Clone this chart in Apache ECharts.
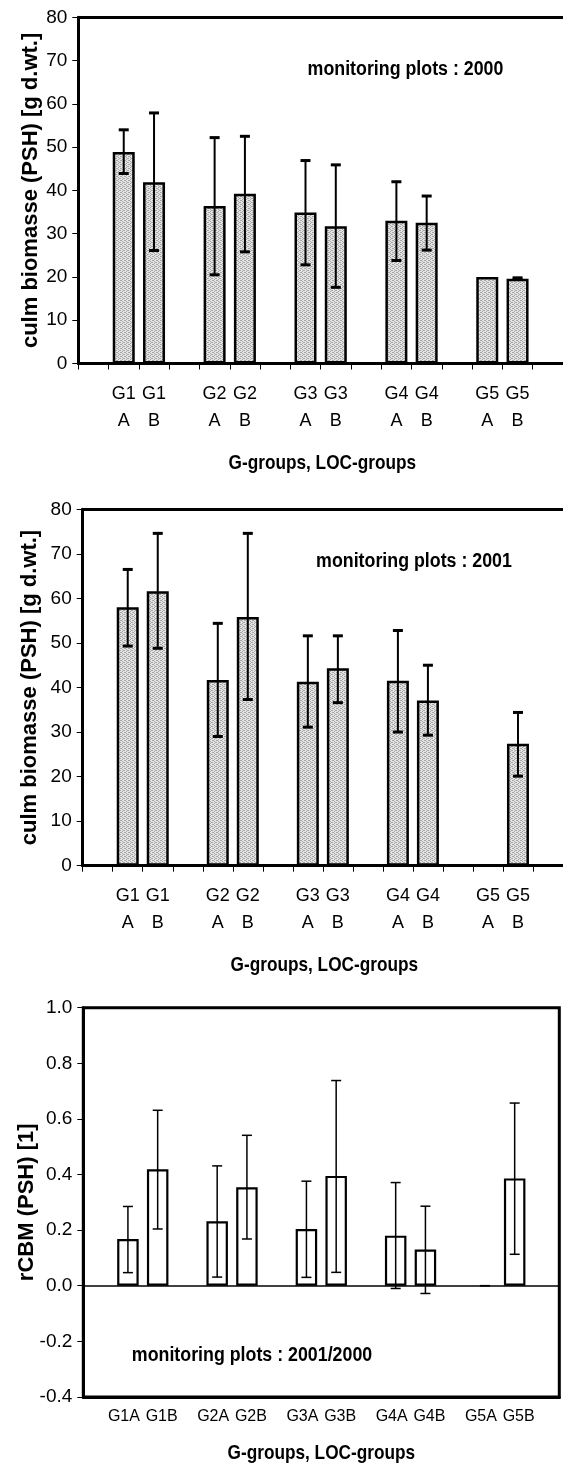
<!DOCTYPE html>
<html><head><meta charset="utf-8">
<script src="https://cdn.jsdelivr.net/npm/echarts@6/dist/echarts.min.js"></script>
<style>html,body{margin:0;padding:0;background:#fff}#c{width:563px;height:1465px}</style>
</head><body><div id="c"></div>
<script>
// ---- data ----
const categories = ['', 'G1A', 'G1B', '', 'G2A', 'G2B', '', 'G3A', 'G3B', '', 'G4A', 'G4B', '', 'G5A', 'G5B', ''];
const labelsTwoRow = ['', 'G1\nA', 'G1\nB', '', 'G2\nA', 'G2\nB', '', 'G3\nA', 'G3\nB', '', 'G4\nA', 'G4\nB', '', 'G5\nA', 'G5\nB', ''];

const biomass2000 = [null, 48.9, 41.9, null, 36.4, 39.2, null, 34.9, 31.7, null, 33.0, 32.5, null, 20.0, 19.6, null];
const biomass2000Upper = [null, 54.0, 57.9, null, 52.2, 52.5, null, 46.9, 45.9, null, 42.0, 38.7, null, null, 19.8, null];
const biomass2000Lower = [null, 43.9, 26.1, null, 20.5, 25.8, null, 22.8, 17.6, null, 23.8, 26.2, null, null, 19.4, null];

const biomass2001 = [null, 58.0, 61.6, null, 41.7, 55.8, null, 41.3, 44.3, null, 41.5, 37.1, null, null, 27.4, null];
const biomass2001Upper = [null, 66.5, 74.6, null, 54.4, 74.6, null, 51.6, 51.6, null, 52.8, 45.0, null, null, 34.4, null];
const biomass2001Lower = [null, 49.3, 48.8, null, 29.0, 37.3, null, 31.1, 36.6, null, 30.0, 29.3, null, null, 20.1, null];

const rcbm = [null, 0.168, 0.419, null, 0.232, 0.354, null, 0.204, 0.395, null, 0.180, 0.130, null, null, 0.386, null];
const rcbmUpper = [null, 0.285, 0.631, null, 0.431, 0.541, null, 0.376, 0.738, null, 0.371, 0.286, null, 0.0, 0.657, null];
const rcbmLower = [null, 0.047, 0.204, null, 0.031, 0.168, null, 0.030, 0.048, null, -0.010, -0.028, null, 0.0, 0.113, null];

const biomassAxis = { min: 0, max: 80, interval: 10 };
const rcbmAxis = { min: -0.4, max: 1.0, interval: 0.2 };

const xTitle = 'G-groups, LOC-groups';
const yTitleBiomass = 'culm biomasse (PSH) [g d.wt.]';
const yTitleRcbm = 'rCBM (PSH) [1]';
const notes = ['monitoring plots : 2000', 'monitoring plots : 2001', 'monitoring plots : 2001/2000'];

// ---- styling helpers ----
const FONT = '"Liberation Sans", Arial, sans-serif';

function stipple() {
  const c = document.createElement('canvas');
  c.width = 4; c.height = 4;
  const g = c.getContext('2d');
  g.fillStyle = '#e4e4e4'; g.fillRect(0, 0, 4, 4);
  g.fillStyle = '#a6a6a6';
  [[0,0],[2,1],[0,2],[2,3],[1,0],[3,2]].forEach(p => g.fillRect(p[0], p[1], 1, 1));
  return c;
}
const pattern = { image: stipple(), repeat: 'repeat' };

function errData(up, lo) {
  const out = [];
  up.forEach((u, i) => { if (u !== null && lo[i] !== null) out.push([i, lo[i], u]); });
  return out;
}
function errRender(capW, lw, capLw) {
  return function (params, api) {
    const x = api.value(0), lo = api.value(1), hi = api.value(2);
    const pH = api.coord([x, hi]), pL = api.coord([x, lo]);
    const st = { stroke: '#000', lineWidth: lw };
    const cs = { stroke: '#000', lineWidth: capLw };
    return { type: 'group', children: [
      { type: 'line', shape: { x1: pH[0], y1: pH[1], x2: pL[0], y2: pL[1] }, style: st },
      { type: 'line', shape: { x1: pH[0] - capW / 2, y1: pH[1], x2: pH[0] + capW / 2, y2: pH[1] }, style: cs },
      { type: 'line', shape: { x1: pL[0] - capW / 2, y1: pL[1], x2: pL[0] + capW / 2, y2: pL[1] }, style: cs }
    ]};
  };
}

const grids = [
  { left: 78.3, top: 17.3, width: 488, height: 346.2, show: false },
  { left: 82.7, top: 509.3, width: 483.2, height: 356.4, show: false },
  { left: 83.3, top: 1007.7, width: 476, height: 389.2, show: true, borderColor: '#000', borderWidth: 3, backgroundColor: 'transparent' }
];

function xAx(i, data, opts) {
  return Object.assign({
    gridIndex: i, type: 'category', data: data,
    axisLine: { onZero: false, lineStyle: { color: '#000', width: 3 } },
    axisTick: { show: true, interval: 0, length: 6, lineStyle: { color: '#000', width: 1 } },
    axisLabel: { interval: 0, color: '#000', fontFamily: FONT, fontSize: 18, lineHeight: 27, margin: 17, hideOverlap: false },
    splitLine: { show: false }
  }, opts || {});
}
function topFrame(i) {
  return { gridIndex: i, type: 'category', position: 'top', data: categories,
    axisLine: { show: true, onZero: false, lineStyle: { color: '#000', width: 3 } },
    axisTick: { show: false }, axisLabel: { show: false }, splitLine: { show: false } };
}
function yAx(i, ax, name, gap, fmt) {
  return {
    gridIndex: i, type: 'value', min: ax.min, max: ax.max, interval: ax.interval,
    axisLine: { show: true, lineStyle: { color: '#000', width: 3 } },
    axisTick: { show: true, length: 6, lineStyle: { color: '#000', width: 1 } },
    axisLabel: { color: '#000', fontFamily: FONT, fontSize: 19, margin: 11, formatter: fmt },
    splitLine: { show: false },
    name: name, nameLocation: 'middle', nameRotate: 90, nameGap: gap, nameMoveOverlap: false,
    nameTextStyle: { color: '#000', fontFamily: FONT, fontWeight: 'bold', fontSize: 22 }
  };
}

const barStyleGray = { color: pattern, borderColor: '#000', borderWidth: 2.5 };
const barStyleWhite = { color: '#fff', borderColor: '#000', borderWidth: 2.2 };

function condensed(text, x, y, size, sx) {
  return { type: 'text', x: x, y: y, scaleX: sx, originX: 0, originY: 0,
    style: { text: text, font: 'bold ' + size + 'px ' + FONT, align: 'center', verticalAlign: 'middle', fill: '#000' } };
}

const pairLabelStyle = { color: '#000', fontFamily: FONT, fontSize: 16 };

const option = {
  animation: false,
  backgroundColor: '#fff',
  grid: grids,
  xAxis: [
    xAx(0, labelsTwoRow),
    xAx(1, labelsTwoRow),
    xAx(2, categories, {
      axisTick: { show: false },
      axisLabel: {
        interval: 0, color: '#000', fontFamily: FONT, fontSize: 16, margin: 12, hideOverlap: false,
        formatter: v => !v ? '' : (v.slice(-1) === 'A' ? '{a|' + v + '}' : '{b|' + v + '}'),
        rich: {
          a: Object.assign({ padding: [0, 8, 0, 0] }, pairLabelStyle),
          b: Object.assign({ padding: [0, 0, 0, 8] }, pairLabelStyle)
        }
      }
    }),
    topFrame(0),
    topFrame(1)
  ],
  yAxis: [
    yAx(0, biomassAxis, yTitleBiomass, 36),
    yAx(1, biomassAxis, yTitleBiomass, 42),
    yAx(2, rcbmAxis, yTitleRcbm, 45, v => v.toFixed(1))
  ],
  series: [
    { type: 'bar', xAxisIndex: 0, yAxisIndex: 0, data: biomass2000, barWidth: 22, itemStyle: barStyleGray },
    { type: 'custom', xAxisIndex: 0, yAxisIndex: 0, data: errData(biomass2000Upper, biomass2000Lower), renderItem: errRender(10, 2, 3), encode: { x: 0, y: [1, 2] }, z: 5 },
    { type: 'bar', xAxisIndex: 1, yAxisIndex: 1, data: biomass2001, barWidth: 22, itemStyle: barStyleGray },
    { type: 'custom', xAxisIndex: 1, yAxisIndex: 1, data: errData(biomass2001Upper, biomass2001Lower), renderItem: errRender(10, 2, 3), encode: { x: 0, y: [1, 2] }, z: 5 },
    { type: 'bar', xAxisIndex: 2, yAxisIndex: 2, data: rcbm, barWidth: 21.5, itemStyle: barStyleWhite,
      markLine: { silent: true, symbol: 'none', label: { show: false }, lineStyle: { color: '#000', width: 1.5, type: 'solid' }, data: [{ yAxis: 0 }] } },
    { type: 'custom', xAxisIndex: 2, yAxisIndex: 2, data: errData(rcbmUpper, rcbmLower), renderItem: errRender(10, 1.5, 1.5), encode: { x: 0, y: [1, 2] }, z: 5 }
  ],
  graphic: [
    condensed(notes[0], 405.5, 69, 20, 0.89),
    condensed(notes[1], 414, 561.7, 20, 0.89),
    condensed(notes[2], 252, 1355, 20, 0.89),
    condensed(xTitle, 322.3, 463.3, 21, 0.82),
    condensed(xTitle, 324.3, 965.4, 21, 0.82),
    condensed(xTitle, 321.3, 1453.3, 21, 0.82)
  ]
};
const chart = echarts.init(document.getElementById('c'), null, { renderer: 'canvas' });
chart.setOption(option);
</script></body></html>
